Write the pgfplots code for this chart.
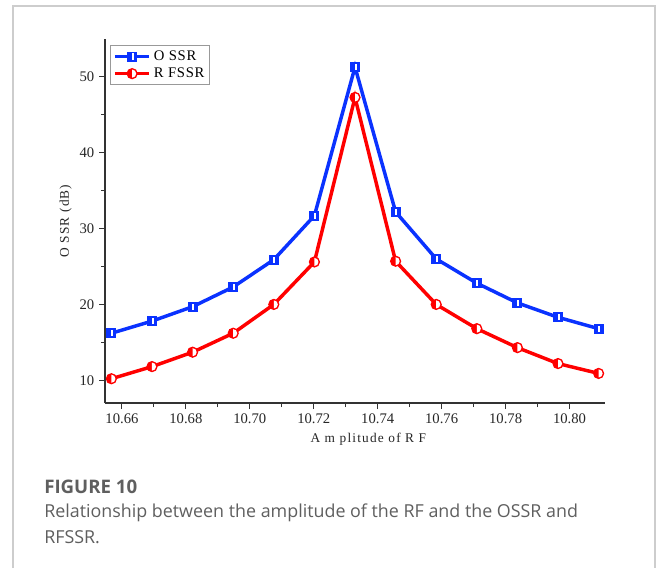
\documentclass[border=0pt]{standalone}
\usepackage{pgfplots}
\pgfplotsset{compat=1.18}
\usepackage{fontspec}
\setmainfont{Liberation Serif}
\newfontfamily\capfont{Open Sans}
\definecolor{bblue}{RGB}{10,50,255}
\definecolor{rred}{RGB}{255,0,0}
\definecolor{framegray}{RGB}{205,205,205}
\definecolor{capgray}{RGB}{95,95,95}
\pgfdeclareplotmark{bsq}{%
  \begin{pgfscope}%
  \pgfpathrectangle{\pgfpoint{-\pgfplotmarksize}{-\pgfplotmarksize}}{\pgfpoint{2\pgfplotmarksize}{2\pgfplotmarksize}}%
  \pgfusepathqfillstroke
  \pgfsetfillcolor{white}%
  \pgfpathrectangle{\pgfpoint{-0.1\pgfplotmarksize}{-0.7\pgfplotmarksize}}{\pgfpoint{0.45\pgfplotmarksize}{1.4\pgfplotmarksize}}%
  \pgfusepathqfill
  \end{pgfscope}%
}
\pgfdeclareplotmark{rci}{%
  \begin{pgfscope}%
  \pgfpathcircle{\pgfpointorigin}{\pgfplotmarksize}%
  \pgfusepathqfillstroke
  \pgfsetfillcolor{white}%
  \pgfpathmoveto{\pgfpoint{0pt}{0.8\pgfplotmarksize}}%
  \pgfpatharc{90}{-90}{0.8\pgfplotmarksize}%
  \pgfpathclose
  \pgfusepathqfill
  \end{pgfscope}%
}
\pgfplotstableread{
x y
10.6567 16.2
10.6694 17.8
10.6821 19.7
10.6948 22.3
10.7075 25.9
10.7202 31.7
10.7329 51.3
10.7456 32.2
10.7583 26.0
10.7710 22.8
10.7837 20.2
10.7964 18.3
10.8091 16.8
}\ossr
\pgfplotstableread{
x y
10.6567 10.2
10.6694 11.8
10.6821 13.7
10.6948 16.2
10.7075 20.0
10.7202 25.6
10.7329 47.3
10.7456 25.7
10.7583 20.0
10.7710 16.8
10.7837 14.3
10.7964 12.2
10.8091 10.9
}\rfssr
\begin{document}
\begin{tikzpicture}[x=0.75pt,y=0.75pt]
\path[fill=white] (0,0) rectangle (656,566);
\draw[framegray,line width=0.9pt] (13,-2) -- (13,560) -- (655,560) -- (655,-2);
\begin{axis}[
  at={(78.75pt,122.25pt)}, anchor=south west,
  scale only axis, width=375pt, height=273pt,
  xmin=10.6547, xmax=10.8111, ymin=7, ymax=55,
  axis x line=bottom, axis y line=left,
  axis line style={line width=1pt, black!80, -},
  tick style={line width=0.8pt, black!80},
  tick align=outside,
  major tick length=4.5pt, minor tick length=3pt,
  xtick={10.66,10.68,...,10.801}, minor x tick num=1,
  ytick={10,20,30,40,50}, minor y tick num=1,
  x tick label style={/pgf/number format/.cd, fixed, fixed zerofill, precision=2, assume math mode=true},
  y tick label style={/pgf/number format/assume math mode=true},
  tick label style={font=\fontsize{11pt}{13pt}\selectfont, black!85},
  xlabel={A m plitude of R F},
  ylabel={O SSR (dB)},
  label style={font=\fontsize{10pt}{11pt}\selectfont\addfontfeatures{LetterSpace=9}, black!85},
  xlabel style={xshift=10pt},
  ylabel style={yshift=-1pt},
  legend style={at={(0.01,0.9835)}, anchor=north west, draw=black!40, line width=0.6pt,
    font=\fontsize{11pt}{12pt}\selectfont\addfontfeatures{LetterSpace=5}, inner sep=2pt, row sep=0pt,
    legend cell align=left},
  legend image code/.code={
    \draw[#1, mark repeat=2, mark phase=2] plot coordinates {(0pt,0pt) (13pt,0pt) (26pt,0pt)};
  },
]
\addplot[bblue, line width=2.6pt, mark=bsq, mark size=3.4pt,
  mark options={solid, line width=0.8pt, fill=bblue, draw=bblue}] table {\ossr};
\addlegendentry{O SSR}
\addplot[rred, line width=2.6pt, mark=rci, mark size=3.8pt,
  mark options={solid, line width=0.8pt, fill=rred, draw=rred}] table {\rfssr};
\addlegendentry{R FSSR}
\end{axis}
\node[anchor=base west, inner sep=0pt, text=capgray, font=\capfont\bfseries\fontsize{14pt}{17pt}\selectfont] at (44,73) {FIGURE 10};
\node[anchor=base west, inner sep=0pt, text=capgray, font=\capfont\fontsize{13.4pt}{15pt}\selectfont] at (44,49) {Relationship between the amplitude of the RF and the OSSR and};
\node[anchor=base west, inner sep=0pt, text=capgray, font=\capfont\fontsize{13.4pt}{15pt}\selectfont] at (44,23) {RFSSR.};
\end{tikzpicture}
\end{document}
